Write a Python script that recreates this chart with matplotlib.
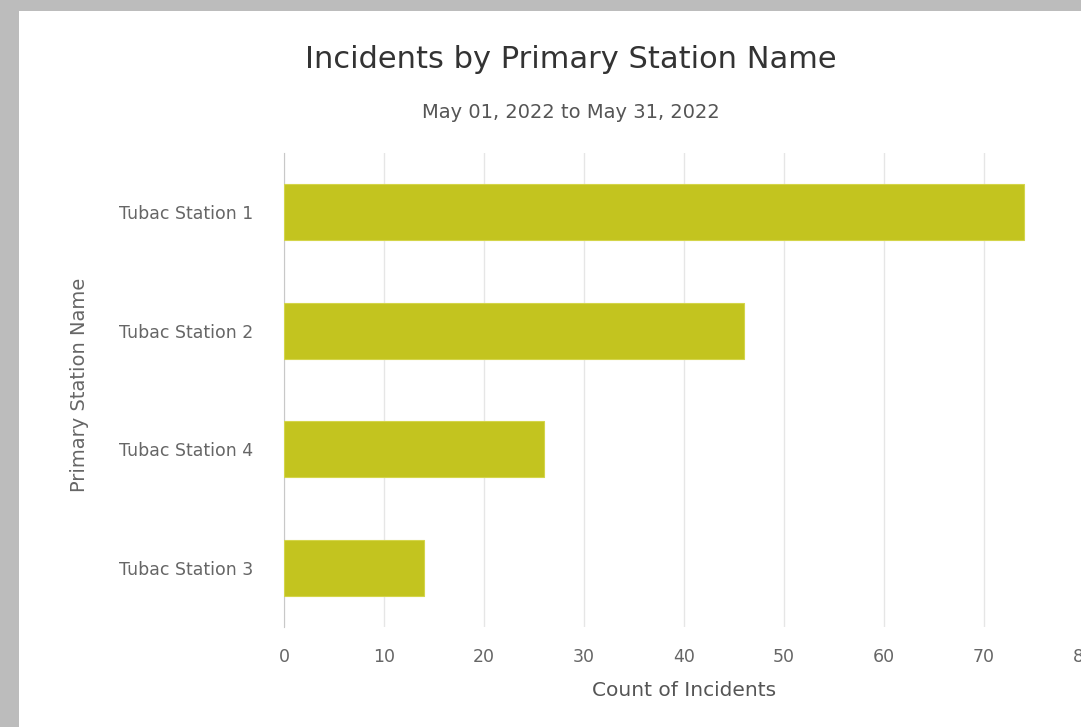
import matplotlib
matplotlib.use("Agg")
import matplotlib.pyplot as plt
from matplotlib.patches import Rectangle

# data
stations = ["Tubac Station 1", "Tubac Station 2", "Tubac Station 4", "Tubac Station 3"]
counts = [74, 46, 26, 14]
xticks = [0, 10, 20, 30, 40, 50, 60, 70, 80]

W, H = 1081, 727
plt.rcParams['font.family'] = ['DejaVu Sans']

fig = plt.figure(figsize=(W / 100, H / 100), dpi=100)
fig.patch.set_facecolor('#bcbcbc')
# white panel on the gray backdrop
panel = Rectangle((19 / W, 0), 1, (H - 11) / H, transform=fig.transFigure,
                  facecolor='white', edgecolor='none', zorder=-5)
fig.add_artist(panel)

left, right = 284, 1084
top, bottom = 153, 627
ax = fig.add_axes([left / W, 1 - bottom / H, (right - left) / W, (bottom - top) / H])
ax.set_facecolor('none')

ypos = list(range(len(stations)))
ax.barh(ypos, counts, height=0.47, color='#c3c41f', edgecolor='#d4d54a', linewidth=0.8, zorder=3)
ax.set_ylim(len(stations) - 0.5, -0.5)
ax.set_xlim(0, 80)
ax.set_xticks(xticks)
ax.set_yticks(ypos)
ax.set_yticklabels(stations)
ax.grid(axis='x', color='#e6e6e6', linewidth=1, zorder=0)
for s in ['top', 'right', 'bottom']:
    ax.spines[s].set_visible(False)
ax.spines['left'].set_color('#c8c8c8')
ax.tick_params(axis='both', length=0, labelsize=12.5, labelcolor='#666666')
ax.tick_params(axis='x', pad=15)
ax.tick_params(axis='y', pad=22)

ax.set_xlabel("Count of Incidents", fontsize=14.5, color='#555555', va='center')
ax.xaxis.set_label_coords(0.5, (bottom - 690) / (bottom - top))
ax.set_ylabel("Primary Station Name", fontsize=14, color='#666666', va='center')
ax.yaxis.set_label_coords((79 - left) / (right - left), (bottom - 385) / (bottom - top))

fig.text(571 / W, 1 - 60 / H, "Incidents by Primary Station Name", ha='center', va='center',
         fontsize=22, color='#333333')
fig.text(571 / W, 1 - 112 / H, "May 01, 2022 to May 31, 2022", ha='center', va='center',
         fontsize=14, color='#555555')

fig.savefig("out.png", dpi=100, facecolor=fig.get_facecolor())
